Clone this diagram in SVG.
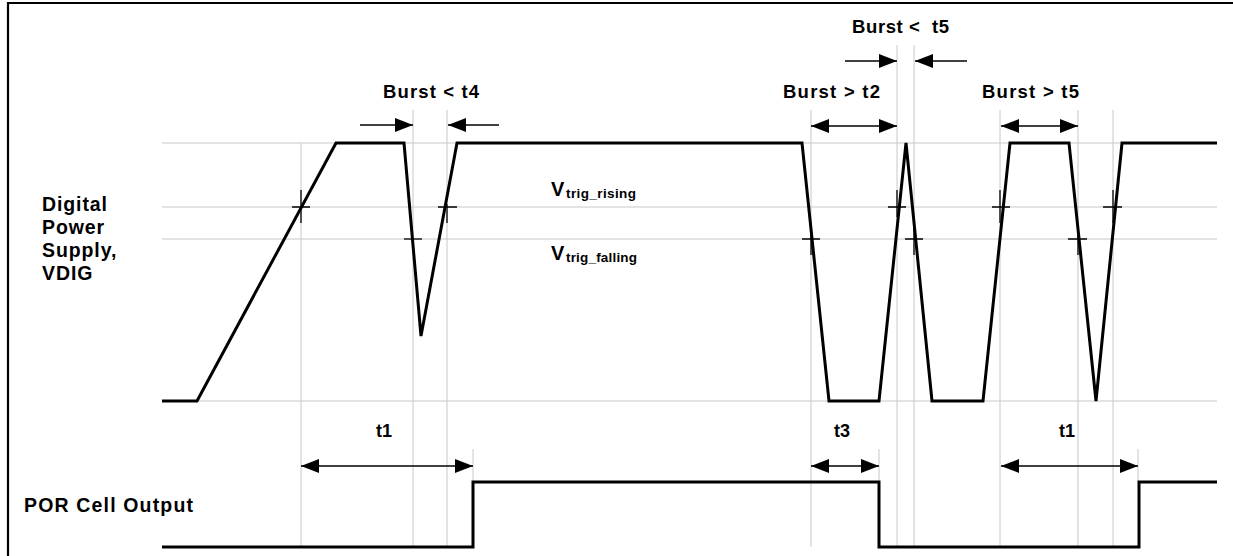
<svg xmlns="http://www.w3.org/2000/svg" width="1233" height="556" viewBox="0 0 1233 556">
<style>
.grid{stroke:#c8c8c8;stroke-width:1;fill:none}
.wave{stroke:#000;stroke-width:3;fill:none;stroke-linejoin:miter}
.tick{stroke:#000;stroke-width:1.3}
.arr{stroke:#000;stroke-width:1.5}
.lbl{font-family:"Liberation Sans",Arial,sans-serif;font-weight:bold;fill:#000}
.frame{stroke:#000;stroke-width:2.2;fill:none}
</style>
<defs>
<marker id="ah" markerUnits="userSpaceOnUse" markerWidth="18" markerHeight="14" refX="18" refY="7" orient="auto-start-reverse">
<path d="M0,0 L18,7 L0,14 z" fill="#000"/>
</marker>
</defs>
<rect width="1233" height="556" fill="#fff"/>
<path class="frame" d="M8,556 V3 H1233"/>
<g id="grid">
<line class="grid" x1="162" y1="143" x2="1217" y2="143"/>
<line class="grid" x1="162" y1="207" x2="1217" y2="207"/>
<line class="grid" x1="162" y1="239" x2="1217" y2="239"/>
<line class="grid" x1="162" y1="401" x2="1217" y2="401"/>
<line class="grid" x1="301" y1="143" x2="301" y2="547"/>
<line class="grid" x1="413" y1="110" x2="413" y2="547"/>
<line class="grid" x1="447" y1="110" x2="447" y2="547"/>
<line class="grid" x1="473" y1="449" x2="473" y2="482"/>
<line class="grid" x1="811" y1="110" x2="811" y2="547"/>
<line class="grid" x1="879" y1="449" x2="879" y2="482"/>
<line class="grid" x1="897" y1="45" x2="897" y2="547"/>
<line class="grid" x1="914" y1="45" x2="914" y2="547"/>
<line class="grid" x1="1000" y1="110" x2="1000" y2="547"/>
<line class="grid" x1="1078" y1="110" x2="1078" y2="547"/>
<line class="grid" x1="1113" y1="110" x2="1113" y2="547"/>
<line class="grid" x1="1138" y1="449" x2="1138" y2="482"/>
</g>
<g id="vdig-wave">
<polyline class="wave" points="162,401 197,401 336,143 404,143 421,336 457,143 802,143 829,401 879,401 906,143 932,401 983,401 1010,143 1069,143 1096,401 1122,143 1217,143"/>
</g>
<g id="por-wave">
<polyline class="wave" points="162,547 473,547 473,482 879,482 879,547 1139,547 1139,482 1217,482"/>
</g>
<g id="ticks">
<path class="tick" d="M292,207 H310 M301,190 V223"/>
<path class="tick" d="M404,239 H422"/>
<path class="tick" d="M438,207 H457 M447,204 V223"/>
<path class="tick" d="M802,239 H820 M811,223 V255"/>
<path class="tick" d="M888,207 H906 M897,190 V217"/>
<path class="tick" d="M905,239 H923 M914,223 V255"/>
<path class="tick" d="M992,207 H1010 M1000,190 V223"/>
<path class="tick" d="M1068,239 H1087 M1078,223 V255"/>
<path class="tick" d="M1103,207 H1122 M1113,190 V223"/>
</g>
<g id="connectors">
<line class="arr" x1="360" y1="125" x2="413" y2="125" marker-end="url(#ah)"/>
<line class="arr" x1="499" y1="125" x2="448" y2="125" marker-end="url(#ah)"/>
<line class="arr" x1="845" y1="61" x2="897" y2="61" marker-end="url(#ah)"/>
<line class="arr" x1="967" y1="61" x2="915" y2="61" marker-end="url(#ah)"/>
<line class="arr" x1="811" y1="126" x2="897" y2="126" marker-start="url(#ah)" marker-end="url(#ah)"/>
<line class="arr" x1="1001" y1="126" x2="1078" y2="126" marker-start="url(#ah)" marker-end="url(#ah)"/>
<line class="arr" x1="301" y1="466" x2="473" y2="466" marker-start="url(#ah)" marker-end="url(#ah)"/>
<line class="arr" x1="811" y1="466" x2="879" y2="466" marker-start="url(#ah)" marker-end="url(#ah)"/>
<line class="arr" x1="1001" y1="466" x2="1138" y2="466" marker-start="url(#ah)" marker-end="url(#ah)"/>
</g>
<g id="labels">
<text class="lbl" x="383" y="98" font-size="18.5" textLength="96" lengthAdjust="spacing">Burst &lt; t4</text>
<text class="lbl" x="852" y="33" font-size="18.5" textLength="97" lengthAdjust="spacing" xml:space="preserve">Burst &lt;  t5</text>
<text class="lbl" x="783" y="98" font-size="18.5" textLength="97" lengthAdjust="spacing">Burst &gt; t2</text>
<text class="lbl" x="982" y="98" font-size="18.5" textLength="97" lengthAdjust="spacing">Burst &gt; t5</text>
<text class="lbl" x="376" y="437" font-size="18">t1</text>
<text class="lbl" x="834" y="437" font-size="18">t3</text>
<text class="lbl" x="1059" y="437" font-size="18">t1</text>
<text class="lbl" font-size="19.5" letter-spacing="0.9"><tspan x="42" y="211">Digital</tspan><tspan x="42" y="234">Power</tspan><tspan x="42" y="257">Supply,</tspan><tspan x="42" y="280">VDIG</tspan></text>
<text class="lbl" x="24" y="512" font-size="19.5" textLength="169" lengthAdjust="spacing">POR Cell Output</text>
<text class="lbl" x="551" y="196" font-size="20">V</text>
<text class="lbl" x="566" y="198" font-size="13.5" textLength="70" lengthAdjust="spacing">trig_rising</text>
<text class="lbl" x="551" y="260" font-size="20">V</text>
<text class="lbl" x="566" y="262" font-size="13.5" textLength="71" lengthAdjust="spacing">trig_falling</text>
</g>
</svg>
